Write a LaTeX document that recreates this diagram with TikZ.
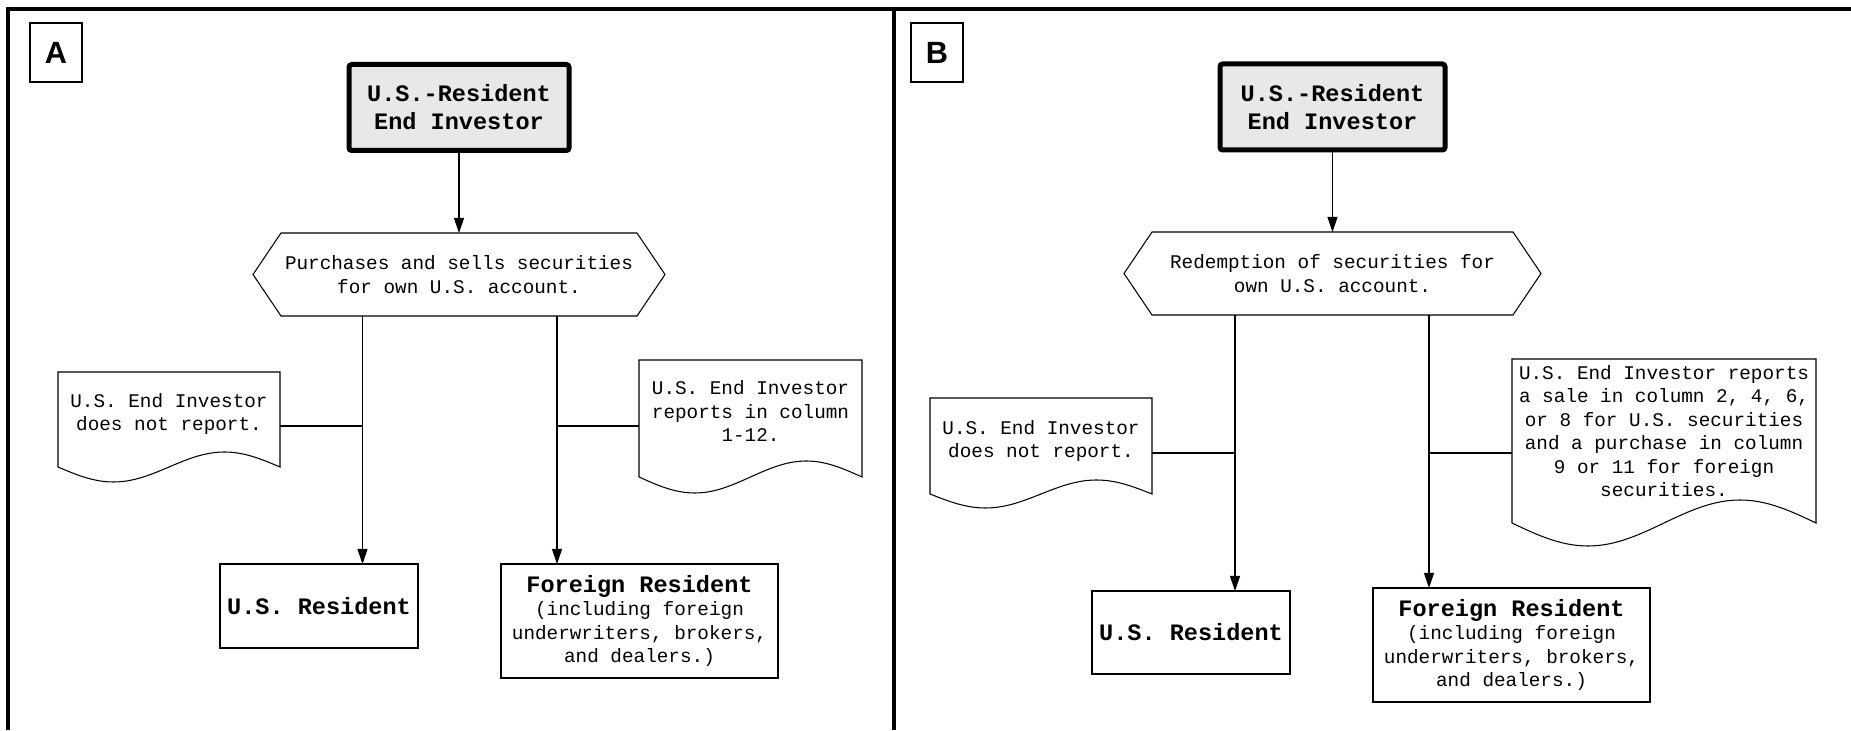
\documentclass[tikz,border=0pt]{standalone}
\usepackage{fontspec}
\usetikzlibrary{arrows.meta}
\newfontfamily\monofont{Liberation Mono}
\newfontfamily\tagfont{Liberation Sans}

\begin{document}
\begin{tikzpicture}[
        >={Triangle[length=0.3cm,width=0.2cm]},
        every node/.style={outer sep=0pt, inner sep=1pt, align=center,
            font=\monofont\fontsize{11}{13.4}\selectfont},
        tag/.style={draw, line width=0.6pt, minimum width=1.04cm, minimum height=1.18cm,
            font=\tagfont\bfseries\fontsize{17.5}{20}\selectfont},
        start/.style={draw, line width=0.1cm, rounded corners=1.5pt, fill=black!9,
            minimum height=1.72cm, font=\monofont\bfseries\fontsize{13.4}{16}\selectfont},
        choice/.style={minimum height=1.66cm},
        party/.style={draw, line width=0.6pt, minimum width=3.96cm},
        head/.style={font=\monofont\bfseries\fontsize{13.4}{16}\selectfont},
        line width=0.6pt
    ]
    \useasboundingbox (0,0) rectangle (37.02,14.6);

    % frame
    \draw[line width=0.08cm] (0.16,0) -- (0.16,14.42) -- (37.02,14.42);
    \draw[line width=0.08cm] (17.88,14.42) -- (17.88,0);

    % panel A
    \node[tag] (tagA) at (1.12,13.55) {A};
    \node[start, minimum width=4.4cm] (topA) at (9.18,12.45) {U.S.-Resident\\End Investor};

    \node[choice, minimum width=7.12cm] (hexA) at (9.18,9.11) {Purchases and sells securities\\for own U.S. account.};
    \draw (hexA.north west) -- (hexA.north east) -- ([xshift=0.56cm]hexA.east) -- (hexA.south east)
        -- (hexA.south west) -- ([xshift=-0.56cm]hexA.west) -- cycle;
    \draw[->] (topA) -- (hexA);

    \node[party, head, minimum height=1.68cm] (usA) at (6.38,2.48) {U.S. Resident};
    \node[party, minimum width=5.54cm, minimum height=2.28cm] (frA) at (12.79,2.18)
        {{\bfseries\fontsize{13.4}{16}\selectfont Foreign Resident}\\(including foreign\\underwriters, brokers,\\and dealers.)};

    \coordinate (la) at (7.25,8.28);
    \coordinate (lb) at (11.14,8.28);
    \draw[->] (la) -- (la |- usA.north);
    \draw[->] (lb) -- (lb |- frA.north);

    \node[minimum width=4.44cm, minimum height=1.68cm] (noteA1) at (3.38,6.32) {U.S. End Investor\\does not report.};
    \draw (noteA1.north west) -- ++(0,-1.9) sin ++(1.11,-0.3) cos ++(1.11,0.3) sin ++(1.11,0.3) cos ++(1.11,-0.3)
        -- (noteA1.north east) -- cycle;
    \coordinate (ja) at (7.25,6.08);
    \draw (ja -| noteA1.east) -- (ja);

    \node[minimum width=4.46cm, minimum height=2.04cm] (noteA2) at (15.01,6.38) {U.S. End Investor\\reports in column\\1-12.};
    \draw (noteA2.north west) -- ++(0,-2.34) sin ++(1.115,-0.32) cos ++(1.115,0.32) sin ++(1.115,0.32) cos ++(1.115,-0.32)
        -- (noteA2.north east) -- cycle;
    \coordinate (jb) at (11.14,6.08);
    \draw (jb) -- (jb -| noteA2.west);

    % panel B
    \node[tag] (tagB) at (18.74,13.55) {B};
    \node[start, minimum width=4.5cm] (topB) at (26.65,12.46) {U.S.-Resident\\End Investor};

    \node[choice, minimum width=7.22cm] (hexB) at (26.65,9.13) {Redemption of securities for\\own U.S. account.};
    \draw (hexB.north west) -- (hexB.north east) -- ([xshift=0.56cm]hexB.east) -- (hexB.south east)
        -- (hexB.south west) -- ([xshift=-0.56cm]hexB.west) -- cycle;
    \draw[->] (topB) -- (hexB);

    \node[party, head, minimum height=1.66cm] (usB) at (23.82,1.95) {U.S. Resident};
    \node[party, minimum width=5.54cm, minimum height=2.28cm] (frB) at (30.23,1.7)
        {{\bfseries\fontsize{13.4}{16}\selectfont Foreign Resident}\\(including foreign\\underwriters, brokers,\\and dealers.)};

    \coordinate (lc) at (24.7,8.3);
    \coordinate (ld) at (28.58,8.3);
    \draw[->] (lc) -- (lc |- usB.north);
    \draw[->] (ld) -- (ld |- frB.north);

    \node[minimum width=4.44cm, minimum height=1.72cm] (noteB1) at (20.82,5.78) {U.S. End Investor\\does not report.};
    \draw (noteB1.north west) -- ++(0,-1.92) sin ++(1.11,-0.28) cos ++(1.11,0.28) sin ++(1.11,0.28) cos ++(1.11,-0.28)
        -- (noteB1.north east) -- cycle;
    \coordinate (jc) at (24.7,5.54);
    \draw (jc -| noteB1.east) -- (jc);

    \node[minimum width=6.08cm, minimum height=2.88cm] (noteB2) at (33.28,5.98)
        {U.S. End Investor reports\\a sale in column 2, 4, 6,\\or 8 for U.S. securities\\and a purchase in column\\9 or 11 for foreign\\securities.};
    \draw (noteB2.north west) -- ++(0,-3.28) sin ++(1.52,-0.46) cos ++(1.52,0.46) sin ++(1.52,0.46) cos ++(1.52,-0.46)
        -- (noteB2.north east) -- cycle;
    \coordinate (jd) at (28.58,5.54);
    \draw (jd) -- (jd -| noteB2.west);
\end{tikzpicture}
\end{document}
